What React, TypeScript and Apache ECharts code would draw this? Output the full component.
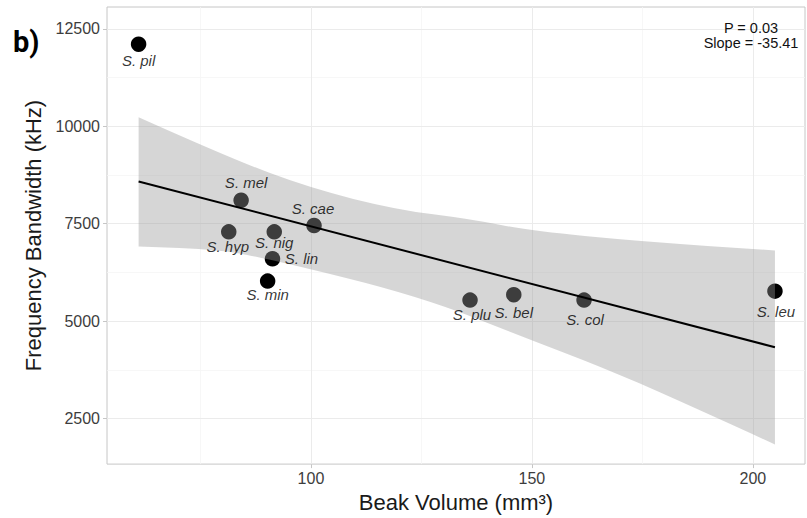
import React, { useEffect, useRef } from "react";
import * as echarts from "echarts";

// ---- data ----
const species = ["S. pil", "S. mel", "S. hyp", "S. nig", "S. cae", "S. lin", "S. min", "S. plu", "S. bel", "S. col", "S. leu"];
const beakVolume = [61.0, 84.2, 81.4, 91.7, 100.7, 91.3, 90.2, 136.0, 145.9, 161.8, 205.0];
const bandwidth = [12108, 8101, 7291, 7291, 7453, 6599, 6026, 5539, 5677, 5539, 5769];

// fitted line end points
const fitX = [61.0, 205.0];
const fitY = [8585, 4328];

// confidence band edges
const upperX = [61.0, 81.7, 99.8, 119.4, 135.9, 149.5, 174.4, 205.0];
const upperY = [10236, 9185, 8415, 7859, 7621, 7321, 7046, 6815];
const lowerX = [61.0, 79.4, 91.2, 124.7, 149.5, 165.4, 182.7, 205.0];
const lowerY = [6918, 6833, 6577, 5636, 4526, 3841, 2987, 1833];

// axis ticks
const xMajor = [100, 150, 200];
const xMinor = [75, 125, 175];
const yMajor = [2500, 5000, 7500, 10000, 12500];
const yMinor = [3750, 6250, 8750, 11250];

const statLines = ["P = 0.03", "Slope = -35.41"];

// label offsets (px) relative to each point
const labelOffsets: number[][] = [
  [0, 16], [5, -18], [-1, 15], [0, 11], [-1, -17], [29, 0], [0, 13], [2, 14], [0, 18], [1, 19], [1, 20],
];

const FONT = "'Liberation Sans', Arial, Helvetica, sans-serif";

// smooth band shape: quadratic curves through midpoints of the read edge points
function smoothEdge(ctx: any, pts: number[][], first: boolean) {
  if (first) ctx.moveTo(pts[0][0], pts[0][1]);
  else ctx.lineTo(pts[0][0], pts[0][1]);
  for (let i = 1; i < pts.length - 1; i++) {
    const mx = (pts[i][0] + pts[i + 1][0]) / 2;
    const my = (pts[i][1] + pts[i + 1][1]) / 2;
    ctx.quadraticCurveTo(pts[i][0], pts[i][1], mx, my);
  }
  const last = pts[pts.length - 1];
  ctx.lineTo(last[0], last[1]);
}

const BandShape = (echarts.graphic as any).extendShape({
  shape: { upper: [] as number[][], lower: [] as number[][] },
  buildPath(ctx: any, shape: any) {
    if (!shape.upper.length) return;
    smoothEdge(ctx, shape.upper, true);
    smoothEdge(ctx, shape.lower, false);
    ctx.closePath();
  },
});
(echarts.graphic as any).registerShape("ciband", BandShape);

export default function App() {
  const ref = useRef<HTMLDivElement>(null);
  useEffect(() => {
    if (!ref.current) return;
    const chart = echarts.init(ref.current, undefined, { renderer: "svg" });
    const points = beakVolume.map((x, i) => ({ name: species[i], value: [x, bandwidth[i]] }));
    const labelPoints = beakVolume.map((x, i) => ({
      name: species[i],
      value: [x, bandwidth[i]],
      label: { offset: labelOffsets[i] },
    }));
    const gridLines: any[] = [
      ...xMinor.map((v) => ({ xAxis: v, lineStyle: { color: "#f5f5f5", width: 0.8, type: "solid" } })),
      ...yMinor.map((v) => ({ yAxis: v, lineStyle: { color: "#f5f5f5", width: 0.8, type: "solid" } })),
      ...xMajor.map((v) => ({ xAxis: v, lineStyle: { color: "#ebebeb", width: 1, type: "solid" } })),
      ...yMajor.map((v) => ({ yAxis: v, lineStyle: { color: "#ebebeb", width: 1, type: "solid" } })),
    ];
    chart.setOption({
      animation: false,
      grid: {
        left: 107, right: 2, top: 7, bottom: 53,
        show: true, borderColor: "#c6c6c6", borderWidth: 1, backgroundColor: "transparent",
      },
      xAxis: {
        type: "value",
        min: 53.85,
        max: 211.8,
        name: "Beak Volume (mm³)",
        nameLocation: "middle",
        nameGap: 12,
        nameTextStyle: { fontSize: 22, color: "#1a1a1a", fontFamily: FONT },
        axisLine: { show: false },
        axisTick: { show: true, length: 4, lineStyle: { color: "#c6c6c6" }, customValues: xMajor },
        axisLabel: {
          customValues: xMajor, fontSize: 16, color: "#3d3d3d", fontFamily: FONT, margin: 6,
          formatter: (v: number) => String(v),
        },
        splitLine: { show: false },
      },
      yAxis: {
        type: "value",
        min: 1328,
        max: 13064,
        name: "Frequency Bandwidth (kHz)",
        nameLocation: "middle",
        nameGap: 48,
        nameTextStyle: { fontSize: 22, color: "#1a1a1a", fontFamily: FONT },
        axisLine: { show: false },
        axisTick: { show: true, length: 4, lineStyle: { color: "#c6c6c6" }, customValues: yMajor },
        axisLabel: {
          customValues: yMajor, fontSize: 16, color: "#3d3d3d", fontFamily: FONT, margin: 7,
          formatter: (v: number) => String(v),
        },
        splitLine: { show: false },
      },
      graphic: [
        {
          type: "text", left: 13, top: 27, z: 100,
          style: { text: "b)", fontSize: 29, fontWeight: "bold", fontFamily: "Roboto, " + FONT, fill: "#000" },
        },
        {
          type: "text", x: 751, y: 35.5, z: 100,
          style: {
            text: statLines.join("\n"), fontSize: 14.5, lineHeight: 14.7, fontFamily: FONT, fill: "#111",
            align: "center", verticalAlign: "middle",
          },
        },
      ],
      series: [
        {
          type: "scatter",
          data: [],
          z: 1,
          silent: true,
          markLine: { silent: true, z: 1, symbol: "none", label: { show: false }, data: gridLines },
        },
        {
          type: "scatter",
          data: points,
          symbol: "circle",
          symbolSize: 15.5,
          itemStyle: { color: "#000", opacity: 1 },
          z: 3,
          silent: true,
        },
        {
          type: "custom",
          z: 4,
          silent: true,
          data: [[upperX[0], upperY[0]]],
          renderItem: (params: any, api: any) => {
            const up: number[][] = upperX.map((x, i) => api.coord([x, upperY[i]]));
            const lo: number[][] = [];
            for (let i = lowerX.length - 1; i >= 0; i--) lo.push(api.coord([lowerX[i], lowerY[i]]));
            return {
              type: "ciband",
              shape: { upper: up, lower: lo },
              style: { fill: "rgba(153,153,153,0.4)", stroke: "none" },
            };
          },
        },
        {
          type: "line",
          data: fitX.map((x, i) => [x, fitY[i]]),
          symbol: "none",
          lineStyle: { color: "#000", width: 2 },
          z: 5,
          silent: true,
        },
        {
          type: "scatter",
          data: labelPoints,
          symbolSize: 1,
          itemStyle: { color: "rgba(0,0,0,0)" },
          z: 6,
          silent: true,
          label: {
            show: true,
            position: "inside",
            formatter: "{b}",
            fontStyle: "italic",
            fontSize: 15,
            fontFamily: FONT,
            color: "#000",
          },
        },
      ],
    });
    return () => chart.dispose();
  }, []);
  return <div ref={ref} style={{ position: "absolute", left: 0, top: 0, width: 807, height: 518 }} />;
}
